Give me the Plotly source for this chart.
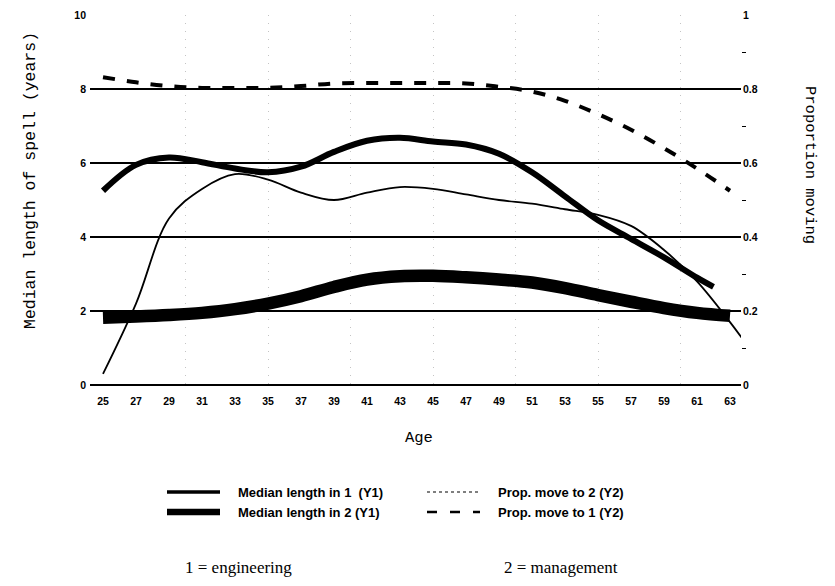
import plotly.graph_objects as go

# ---------------- data ----------------
ages = [25, 27, 29, 31, 33, 35, 37, 39, 41, 43, 45, 47, 49, 51, 53, 55, 57, 59, 61, 63]
tick_labels = [str(a) for a in ages]

# Median length in 1 (engineering), Y1 - line ends at 62
ages_eng = [25, 27, 29, 31, 33, 35, 37, 39, 41, 43, 45, 47, 49, 51, 53, 55, 57, 59, 61, 62]
len_eng = [5.25, 5.95, 6.15, 6.02, 5.85, 5.75, 5.90, 6.30, 6.60, 6.68, 6.58, 6.50, 6.25,
           5.75, 5.10, 4.45, 3.95, 3.45, 2.90, 2.65]

# Median length in 2 (management), Y1
len_mgmt = [1.82, 1.85, 1.89, 1.95, 2.05, 2.20, 2.40, 2.65, 2.85, 2.94, 2.95, 2.91, 2.85,
            2.77, 2.62, 2.43, 2.25, 2.08, 1.95, 1.87]

# Prop. move to 2, Y2 - line runs on to 64
ages_p2 = [25, 27, 29, 31, 33, 35, 37, 39, 41, 43, 45, 47, 49, 51, 53, 55, 57, 59, 61, 63, 64]
prop_to_mgmt = [0.03, 0.22, 0.45, 0.53, 0.57, 0.555, 0.52, 0.50, 0.52, 0.535, 0.53, 0.515,
                0.50, 0.49, 0.475, 0.46, 0.43, 0.365, 0.28, 0.17, 0.11]

# Prop. move to 1, Y2
prop_to_eng = [0.832, 0.818, 0.808, 0.803, 0.803, 0.803, 0.808, 0.815, 0.816, 0.816, 0.816,
               0.815, 0.806, 0.793, 0.768, 0.732, 0.69, 0.64, 0.585, 0.525]

y1_ticks = [0, 2, 4, 6, 8, 10]
y2_ticks = [0, 0.2, 0.4, 0.6, 0.8, 1]
y2_labels = ["0", "0.2", "0.4", "0.6", "0.8", "1"]
vgrid_ages = [30, 35, 40, 45, 50, 55, 60]

# ---------------- layout geometry (pixels) ----------------
W, H = 835, 586
L, R, T, B = 90, 741, 15, 385


def px_x(px):
    return (px - L) / (R - L)


def px_y(py):
    return (B - py) / (B - T)


sans = "Liberation Sans, Arial, sans-serif"
mono = "Liberation Mono, Courier New, monospace"
serif = "Liberation Serif, Times New Roman, serif"

fig = go.Figure()
fig.add_trace(go.Scatter(x=ages_p2, y=prop_to_mgmt, yaxis="y2", mode="lines",
                         name="Prop. move to 2 (Y2)",
                         line=dict(color="black", width=1.8, shape="spline", smoothing=1)))
fig.add_trace(go.Scatter(x=ages, y=prop_to_eng, yaxis="y2", mode="lines",
                         name="Prop. move to 1 (Y2)",
                         line=dict(color="black", width=4, dash="12px,12px",
                                   shape="spline", smoothing=1)))
fig.add_trace(go.Scatter(x=ages_eng, y=len_eng, mode="lines", name="Median length in 1 (Y1)",
                         line=dict(color="black", width=6, shape="spline", smoothing=1)))
fig.add_trace(go.Scatter(x=ages, y=len_mgmt, mode="lines", name="Median length in 2 (Y1)",
                         line=dict(color="black", width=12.5, shape="spline", smoothing=1)))

tickfont = dict(family=sans, size=10.5, color="black", weight="bold")

fig.update_layout(
    width=W, height=H,
    margin=dict(l=L, r=W - R, t=T, b=H - B, pad=0),
    paper_bgcolor="white", plot_bgcolor="white",
    showlegend=False,
    hovermode=False,
    xaxis=dict(range=[25 - 13 / 16.5, 63 + 11 / 16.5], tickmode="array",
               tickvals=ages, ticktext=tick_labels, ticks="", showgrid=False,
               zeroline=False, showline=False, tickfont=tickfont,
               ticklabelstandoff=8, automargin=False,
               minor=dict(tickvals=vgrid_ages, showgrid=True, gridcolor="#c4c4c4",
                          griddash="1px,7px", gridwidth=1, ticks="")),
    yaxis=dict(range=[0, 10], tickmode="array", tickvals=y1_ticks, ticks="",
               showgrid=True, gridcolor="black", gridwidth=1.5,
               zeroline=True, zerolinecolor="black", zerolinewidth=1.5,
               showline=False, tickfont=tickfont, ticklabelstandoff=3, automargin=False),
    yaxis2=dict(range=[0, 1], overlaying="y", side="right", tickmode="array",
                tickvals=y2_ticks, ticktext=y2_labels, ticks="", showgrid=False,
                zeroline=False, showline=False, tickfont=tickfont, ticklabelstandoff=1,
                automargin=False,
                minor=dict(tickvals=[0.1, 0.3, 0.5, 0.7, 0.9], ticks="outside",
                           ticklen=4, tickcolor="black", tickwidth=1.2)),
)

annotations = []
# axis titles
annotations.append(dict(text="Median length of spell (years)", x=px_x(30), y=px_y(181),
                        xref="paper", yref="paper", textangle=-90, showarrow=False,
                        xanchor="center", yanchor="middle",
                        font=dict(family=mono, size=16.5, color="black")))
annotations.append(dict(text="Proportion moving", x=px_x(810), y=px_y(165),
                        xref="paper", yref="paper", textangle=90, showarrow=False,
                        xanchor="center", yanchor="middle",
                        font=dict(family=mono, size=15.5, color="black")))
annotations.append(dict(text="Age", x=px_x(419), y=px_y(438), xref="paper", yref="paper",
                        showarrow=False, xanchor="center", yanchor="middle",
                        font=dict(family=mono, size=15.5, color="black")))

# legend (drawn by hand: two columns, two rows)
legend_font = dict(family=sans, size=13, color="black", weight="bold")
legend_items = [
    ("Median length in 1  (Y1)", 167, 220, 492, dict(color="black", width=3.5)),
    ("Median length in 2 (Y1)", 167, 220, 512, dict(color="black", width=6.5)),
    ("Prop. move to 2 (Y2)", 427, 480, 492, dict(color="black", width=1.2, dash="dot")),
    ("Prop. move to 1 (Y2)", 427, 480, 512, dict(color="black", width=2.5, dash="10px,13px")),
]
shapes = []
for label, x0, x1, yy, ln in legend_items:
    shapes.append(dict(type="line", xref="paper", yref="paper", x0=px_x(x0), x1=px_x(x1),
                       y0=px_y(yy), y1=px_y(yy), line=ln))
    annotations.append(dict(text=label, x=px_x(x1 + 16), y=px_y(yy), xref="paper",
                            yref="paper", showarrow=False, xanchor="left",
                            yanchor="middle", font=legend_font))

# footnote
foot_font = dict(family=serif, size=17, color="black")
annotations.append(dict(text="1 = engineering", x=px_x(183), y=px_y(567), xref="paper",
                        yref="paper", showarrow=False, xanchor="left", yanchor="middle",
                        font=foot_font))
annotations.append(dict(text="2 = management", x=px_x(502), y=px_y(567), xref="paper",
                        yref="paper", showarrow=False, xanchor="left", yanchor="middle",
                        font=foot_font))

fig.update_layout(annotations=annotations, shapes=shapes)
fig.write_html("out.html",
               config={"displayModeBar": False},
               post_script="document.body.style.margin='0px';document.body.style.padding='0px';")
